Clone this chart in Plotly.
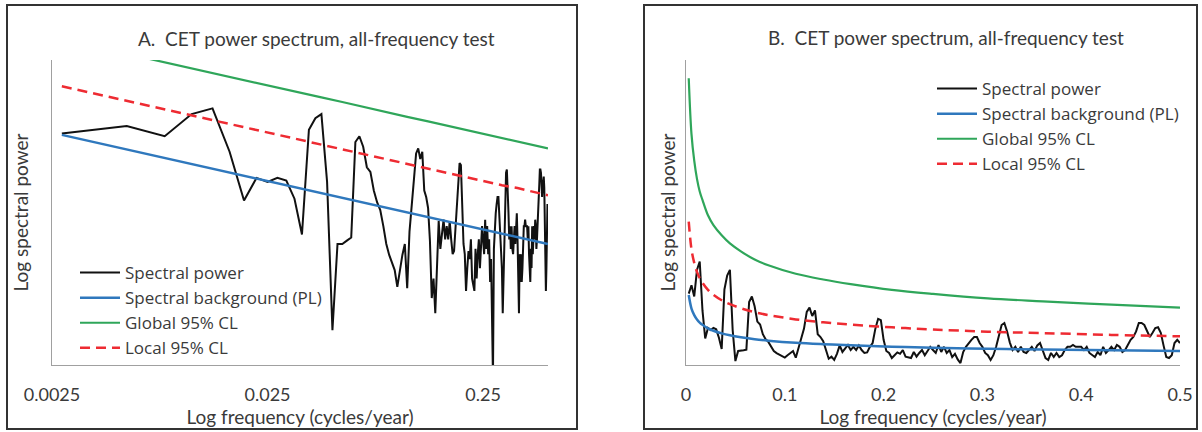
import plotly.graph_objects as go

# ---------------- data ----------------
N_YEARS = 360
HARMONIC = list(range(1, 181))                       # k = 1..180
FREQ = [k / N_YEARS for k in HARMONIC]               # cycles/year

SPECTRAL_POWER = [
    5.1, 5.7, 4.9, 6.8, 7.4, 3.9, 1.9, 2.65, 2.5, 2.65,
    2.55, 1.95, 1.15, 5.4, 6.4, 6.8, 2.5, 0.28, 1.0, 1.0,
    1.05, 1.1, 4.5, 4.9, 4.2, 3.1, 2.9, 2.2, 1.85, 1.65,
    1.3, 1.0, 0.85, 0.75, 0.68, 0.53, 0.7, 0.85, 1.0, 0.52,
    1.2, 1.9, 2.6, 3.8, 4.1, 3.5, 3.9, 2.2, 2.0, 1.7,
    1.05, 0.45, 0.6, 0.36, 0.8, 1.4, 0.93, 1.2, 1.43, 1.07,
    1.3, 1.07, 1.4, 1.07, 0.86, 0.9, 1.3, 1.57, 2.6, 3.3,
    3.2, 1.8, 1.0, 0.86, 0.5, 0.7, 0.9, 0.8, 1.07, 0.6,
    0.55, 0.5, 0.93, 0.6, 0.86, 1.07, 0.7, 1.0, 1.3, 1.07,
    0.86, 1.43, 0.93, 1.3, 0.86, 1.07, 0.57, 0.8, 0.4, 0.14,
    0.93, 1.3, 1.57, 1.8, 2.0, 2.0, 1.57, 1.3, 0.86, 0.7,
    0.36, 0.7, 1.3, 2.0, 2.86, 3.0, 2.4, 1.6, 1.07, 1.3,
    0.93, 1.3, 0.93, 0.86, 1.07, 1.3, 1.0, 1.4, 1.57, 1.07,
    0.5, 0.36, 0.86, 0.57, 0.86, 0.57, 0.7, 1.07, 1.3, 1.3,
    1.43, 1.3, 1.3, 1.3, 1.07, 1.3, 0.86, 0.7, 0.57, 0.93,
    0.7, 1.3, 0.86, 1.07, 1.3, 1.07, 1.43, 1.3, 0.93, 1.07,
    1.43, 1.8, 2.0, 2.4, 3.0, 3.0, 2.86, 2.36, 2.0, 2.3,
    2.64, 2.7, 2.3, 1.4, 0.57, 0.5, 0.7, 1.57, 1.8, 1.57,
]

CURVE_K = [1, 2, 3, 4, 5, 6, 8, 10, 13, 16, 20, 25, 30, 40, 50, 60, 75, 90, 110, 130, 155, 180]
CURVE_FREQ = [k / N_YEARS for k in CURVE_K]
BACKGROUND = [5.00, 4.03, 3.56, 3.25, 3.03, 2.87, 2.62, 2.45, 2.26, 2.12, 1.98,
              1.84, 1.74, 1.59, 1.49, 1.41, 1.31, 1.24, 1.16, 1.11, 1.05, 1.00]
GLOBAL_CL = [20.5, 16.5, 14.6, 13.3, 12.4, 11.8, 10.7, 10.0, 9.27, 8.69, 8.12,
             7.54, 7.13, 6.52, 6.11, 5.78, 5.37, 5.08, 4.76, 4.55, 4.31, 4.10]
LOCAL_CL = [10.25, 8.26, 7.30, 6.66, 6.21, 5.88, 5.37, 5.02, 4.63, 4.35, 4.06,
            3.77, 3.57, 3.26, 3.05, 2.89, 2.69, 2.54, 2.38, 2.28, 2.15, 2.05]

A_TICKS = [0.0025, 0.025, 0.25]
A_TICKTEXT = ["0.0025", "0.025", "0.25"]
B_TICKS = [0, 0.1, 0.2, 0.3, 0.4, 0.5]
B_TICKTEXT = ["0", "0.1", "0.2", "0.3", "0.4", "0.5"]

NAMES = ["Spectral power", "Spectral background (PL)", "Global 95% CL", "Local 95% CL"]
TITLE = "CET power spectrum, all-frequency test"

# ---------------- styling ----------------
W, H = 1202, 432
FONT = "Lato, 'Open Sans', sans-serif"
LEG_FONT = "'Open Sans', Lato, sans-serif"
TXT = "#3a3a3a"
C_BLACK = "#111111"
C_BLUE = "#2f78bd"
C_GREEN = "#2fa65a"
C_RED = "#ee2b32"
AX = "#a0a0a0"
FS = 19


def px_x(p):
    return p / W


def px_y(p):
    return 1 - p / H


fig = go.Figure()

for panel, (xa, ya, leg) in enumerate([("x", "y", "legend"), ("x2", "y2", "legend2")]):
    shp = "spline" if panel else "linear"
    fig.add_trace(go.Scatter(x=FREQ, y=SPECTRAL_POWER, mode="lines", name=NAMES[0],
                             line=dict(color=C_BLACK, width=2), xaxis=xa, yaxis=ya, legend=leg))
    fig.add_trace(go.Scatter(x=CURVE_FREQ, y=BACKGROUND, mode="lines", name=NAMES[1],
                             line=dict(color=C_BLUE, width=2.5, shape=shp),
                             xaxis=xa, yaxis=ya, legend=leg))
    fig.add_trace(go.Scatter(x=CURVE_FREQ, y=GLOBAL_CL, mode="lines", name=NAMES[2],
                             line=dict(color=C_GREEN, width=2.2, shape=shp),
                             xaxis=xa, yaxis=ya, legend=leg))
    fig.add_trace(go.Scatter(x=CURVE_FREQ, y=LOCAL_CL, mode="lines", name=NAMES[3],
                             line=dict(color=C_RED, width=2.5, dash="10px,6px", shape=shp),
                             xaxis=xa, yaxis=ya, legend=leg))

ydom = [px_y(365), px_y(60)]
axis_common = dict(showgrid=False, zeroline=False, showline=True, linecolor=AX, linewidth=1.2,
                   tickfont=dict(family=FONT, size=18, color=TXT), ticks="", fixedrange=True,
                   automargin=False)
title_font = dict(size=FS, family=FONT, color=TXT)
leg_font = dict(family=LEG_FONT, size=17, color=TXT)

fig.update_layout(
    width=W, height=H, margin=dict(l=0, r=0, t=0, b=0, autoexpand=False),
    paper_bgcolor="white", plot_bgcolor="white",
    font=dict(family=FONT, color=TXT),
    xaxis=dict(domain=[px_x(52), px_x(548)], type="log", range=[-2.602, -0.301],
               tickvals=A_TICKS, ticktext=A_TICKTEXT, ticklabelstandoff=13,
               title=dict(text="Log frequency (cycles/year)", font=title_font, standoff=3),
               anchor="y", **axis_common),
    yaxis=dict(domain=ydom, type="log", range=[-0.776, 1.179], showticklabels=False,
               title=dict(text="Log spectral power", font=title_font, standoff=17),
               anchor="x", **axis_common),
    xaxis2=dict(domain=[px_x(686), px_x(1180)], range=[0, 0.5],
                tickvals=B_TICKS, ticktext=B_TICKTEXT, ticklabelstandoff=13,
                title=dict(text="Log frequency (cycles/year)", font=title_font, standoff=3),
                anchor="y2", **axis_common),
    yaxis2=dict(domain=ydom, range=[0, 21.8], showticklabels=False,
                title=dict(text="Log spectral power", font=title_font, standoff=4),
                anchor="x2", **axis_common),
    legend=dict(x=px_x(75), y=px_y(255), xanchor="left", yanchor="top", bgcolor="rgba(0,0,0,0)",
                font=leg_font, tracegroupgap=0, itemwidth=40),
    legend2=dict(x=px_x(932), y=px_y(71), xanchor="left", yanchor="top", bgcolor="rgba(0,0,0,0)",
                 font=leg_font, tracegroupgap=0, itemwidth=40),
    showlegend=True,
)

# panel frames
fig.add_shape(type="rect", xref="paper", yref="paper", x0=px_x(7), x1=px_x(577), y0=px_y(429), y1=px_y(5),
              line=dict(color="#333333", width=2), fillcolor="rgba(0,0,0,0)", layer="below")
fig.add_shape(type="rect", xref="paper", yref="paper", x0=px_x(644), x1=px_x(1197), y0=px_y(429), y1=px_y(5),
              line=dict(color="#333333", width=2), fillcolor="rgba(0,0,0,0)", layer="below")

# panel titles
fig.add_annotation(text="A.  " + TITLE, xref="paper", yref="paper", x=px_x(316), y=px_y(38),
                   xanchor="center", yanchor="middle",
                   showarrow=False, font=dict(family=FONT, size=FS, color=TXT))
fig.add_annotation(text="B.  " + TITLE, xref="paper", yref="paper", x=px_x(946), y=px_y(37),
                   xanchor="center", yanchor="middle",
                   showarrow=False, font=dict(family=FONT, size=FS, color=TXT))

fig.write_html("out.html")
